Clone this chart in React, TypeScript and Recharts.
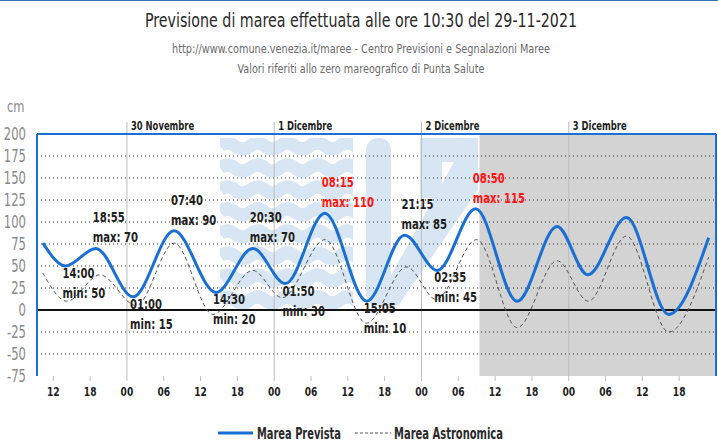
import {
  ComposedChart,
  Line,
  XAxis,
  YAxis,
  ReferenceArea,
  ReferenceLine,
  Scatter,
  Customized,
} from "recharts";

// ore contate dalla mezzanotte del 29-11-2021
const orePrevista = [10.3, 14, 18.92, 25, 31.67, 38.5, 44.5, 49.83, 56.25, 63.08, 69.25, 74.58, 80.83, 87.6, 94.1, 99.1, 105.4, 112.3, 118.8];
const cmPrevista = [76, 50, 70, 15, 90, 20, 70, 30, 110, 10, 85, 45, 115, 10, 95, 40, 105, -5, 82];

const oreAstronomica = [10.3, 14.2, 19.6, 25.5, 31.7, 38, 44.5, 49.3, 56.3, 63, 69.6, 74.4, 81, 87.6, 94.1, 99.2, 105.4, 112.3, 118.8];
const cmAstronomica = [42, 10, 40, 5, 76, -5, 45, 14, 80, -15, 49, 12, 80, -20, 56, 10, 84, -25, 60];

const estremiOre = [14, 18.92, 25, 31.67, 38.5, 44.5, 49.83, 56.25, 63.08, 69.25, 74.58, 80.83];
const estremiCm = [50, 70, 15, 90, 20, 70, 30, 110, 10, 85, 45, 115];
const estremiOrari = ["14:00", "18:55", "01:00", "07:40", "14:30", "20:30", "01:50", "08:15", "15:05", "21:15", "02:35", "08:50"];
const estremiTipo = ["min", "max", "min", "max", "min", "max", "min", "max", "min", "max", "min", "max"];

const giorniOre = [24, 48, 72, 96];
const giorniNomi = ["30 Novembre", "1 Dicembre", "2 Dicembre", "3 Dicembre"];

const xTicks = [12, 18, 24, 30, 36, 42, 48, 54, 60, 66, 72, 78, 84, 90, 96, 102, 108, 114];
const yTicks = [-75, -50, -25, 0, 25, 50, 75, 100, 125, 150, 175, 200];
const gridCm = [-50, -25, 25, 50, 75, 100, 125, 150, 175];

const xMin = 9.34;
const xMax = 120;
const inizioTendenza = 81.45;

const prevista = orePrevista.map((h, i) => ({ h, v: cmPrevista[i] }));
const astronomica = oreAstronomica.map((h, i) => ({ h, v: cmAstronomica[i] }));
const etichette = estremiOre.map((h, i) => ({
  h,
  v: estremiCm[i],
  ora: estremiOrari[i],
  tipo: estremiTipo[i],
}));

const FONT = "'DejaVu Sans Condensed', 'Liberation Sans', sans-serif";
const BLU = "#1a6fd4";
const FILIGRANA = "#d8e5f3";

// testo stretto orizzontalmente (il font originale è molto condensato)
const Stretto = ({ x, y, sx, children, ...rest }: any) => (
  <text transform={`translate(${x},${y}) scale(${sx},1)`} {...rest}>
    {children}
  </text>
);

const EtichettaEstremo = (props: any) => {
  const { cx, cy, payload } = props;
  if (cx == null || cy == null) return null;
  const isMax = payload.tipo === "max";
  const color = payload.v >= 110 ? "#ff1414" : "#1e1e1e";
  const x = cx - 3;
  return (
    <g fontFamily={FONT} fontWeight="bold" fontSize={14} fill={color}>
      <Stretto x={x} y={isMax ? cy - 26 : cy + 12} sx={0.8}>{payload.ora}</Stretto>
      <Stretto x={x} y={isMax ? cy - 6 : cy + 32} sx={0.8}>{`${payload.tipo}: ${payload.v}`}</Stretto>
    </g>
  );
};

const Filigrana = () => {
  const onde = [];
  for (let k = 0; k < 8; k++) {
    const y = 146 + k * 22;
    let d = `M 220 ${y}`;
    for (let x = 220; x < 352; x += 30) {
      d += ` q 7.5 -6 15 0 t 15 0`;
    }
    onde.push(<path key={k} d={d} stroke={FILIGRANA} strokeWidth={13} fill="none" />);
  }
  return (
    <g>
      <clipPath id="clipOnde">
        <rect x={220} y={138} width={133} height={176} />
      </clipPath>
      <g clipPath="url(#clipOnde)">{onde}</g>
      <rect x={366} y={138} width={25} height={168} rx={12} fill={FILIGRANA} />
      <rect x={420} y={138} width={58} height={24} fill={FILIGRANA} />
      <rect x={420} y={138} width={22} height={60} fill={FILIGRANA} />
      <polygon points="454,162 478,162 478,190 398,306 374,306" fill={FILIGRANA} />
    </g>
  );
};

const Testi = () => (
  <g fontFamily={FONT}>
    <line x1={0} y1={0.5} x2={718} y2={0.5} stroke="#3d6fb3" strokeWidth={1} />
    <text x={361} y={27} textAnchor="middle" fontSize={19} fill="#2a2a2a" textLength={432} lengthAdjust="spacingAndGlyphs">
      Previsione di marea effettuata alle ore 10:30 del 29-11-2021
    </text>
    <text x={361} y={53} textAnchor="middle" fontSize={12.5} fill="#6a6a6a" textLength={378} lengthAdjust="spacingAndGlyphs">
      http://www.comune.venezia.it/maree - Centro Previsioni e Segnalazioni Maree
    </text>
    <text x={361} y={73} textAnchor="middle" fontSize={12.5} fill="#6a6a6a" textLength={247} lengthAdjust="spacingAndGlyphs">
      Valori riferiti allo zero mareografico di Punta Salute
    </text>
    <Stretto x={7} y={112} sx={0.85} fontSize={15} fill="#8a8a8a">cm</Stretto>
    <Stretto x={481} y={150} sx={0.8} fontSize={13} fill="#444">Tendenza</Stretto>
    <line x1={218} y1={433} x2={253} y2={433} stroke={BLU} strokeWidth={3} />
    <text x={257} y={439} fontSize={16} fontWeight="bold" fill="#2a2a2a" textLength={84} lengthAdjust="spacingAndGlyphs">
      Marea Prevista
    </text>
    <line x1={355} y1={433} x2={391} y2={433} stroke="#555" strokeWidth={1} strokeDasharray="3 2" />
    <text x={394} y={439} fontSize={16} fontWeight="bold" fill="#2a2a2a" textLength={109} lengthAdjust="spacingAndGlyphs">
      Marea Astronomica
    </text>
  </g>
);

const EtichettaGiorno = (nome: string) => (props: any) => {
  const vb = props.viewBox || {};
  const x = vb.x ?? 0;
  const y = vb.y ?? 0;
  return (
    <g>
      <line x1={x} y1={y - 12} x2={x} y2={y} stroke="#bdbdbd" strokeWidth={1} />
      <Stretto x={x + 4} y={y - 4} sx={0.72} fontFamily={FONT} fontWeight="bold" fontSize={13} fill="#1e1e1e">
        {nome}
      </Stretto>
    </g>
  );
};

const TickX = (props: any) => {
  const { x, y, payload } = props;
  return (
    <Stretto x={x} y={y} sx={0.78} dy="0.71em" textAnchor="middle" fontFamily={FONT} fontWeight="bold" fontSize={13} fill="#1e1e1e">
      {String(payload.value % 24).padStart(2, "0")}
    </Stretto>
  );
};

const TickY = (props: any) => {
  const { x, y, payload } = props;
  return (
    <Stretto x={x} y={y} sx={0.76} dy="0.36em" textAnchor="end" fontFamily={FONT} fontSize={17} fill="#8a8a8a">
      {payload.value}
    </Stretto>
  );
};

export default function App() {
  return (
    <div style={{ position: "absolute", left: 0, top: 0, width: 718, height: 442, background: "#fff" }}>
      <ComposedChart
        width={718}
        height={442}
        margin={{ top: 134, right: 2, bottom: 41, left: 0 }}
        style={{ fontFamily: FONT }}
      >
        <Customized component={Filigrana} />
        <Customized component={Testi} />
        <XAxis
          dataKey="h"
          type="number"
          domain={[xMin, xMax]}
          allowDataOverflow
          ticks={xTicks}
          interval={0}
          height={25}
          axisLine={false}
          tickLine={{ stroke: "#bdbdbd" }}
          tickSize={5}
          tickMargin={6}
          tick={TickX}
        />
        <YAxis
          type="number"
          domain={[-75, 200]}
          ticks={yTicks}
          interval={0}
          width={37}
          axisLine={false}
          tickLine={false}
          tickSize={0}
          tickMargin={11}
          tick={TickY}
        />
        <ReferenceArea x1={inizioTendenza} x2={xMax} y1={-75} y2={200} fill="#d3d3d3" fillOpacity={1} stroke="none" />
        {gridCm.map((v) => (
          <ReferenceLine key={"g" + v} y={v} stroke="#2a2a2a" strokeWidth={1} strokeDasharray="1 3" />
        ))}
        {giorniOre.map((h, i) => (
          <ReferenceLine key={"d" + h} x={h} stroke="#bdbdbd" strokeWidth={1} label={EtichettaGiorno(giorniNomi[i])} />
        ))}
        <ReferenceLine y={0} stroke="#111" strokeWidth={2} />
        <Line
          data={astronomica}
          dataKey="v"
          type="monotone"
          stroke="#555"
          strokeWidth={1}
          strokeDasharray="4 3"
          dot={false}
          activeDot={false}
          isAnimationActive={false}
        />
        <Line
          data={prevista}
          dataKey="v"
          type="monotone"
          stroke={BLU}
          strokeWidth={3}
          dot={false}
          activeDot={false}
          isAnimationActive={false}
        />
        <Scatter data={etichette} dataKey="v" shape={EtichettaEstremo} isAnimationActive={false} />
        <ReferenceLine y={200} stroke={BLU} strokeWidth={2} />
        <ReferenceLine x={xMin} stroke={BLU} strokeWidth={2} />
        <ReferenceLine x={xMax} stroke={BLU} strokeWidth={2} />
      </ComposedChart>
    </div>
  );
}
